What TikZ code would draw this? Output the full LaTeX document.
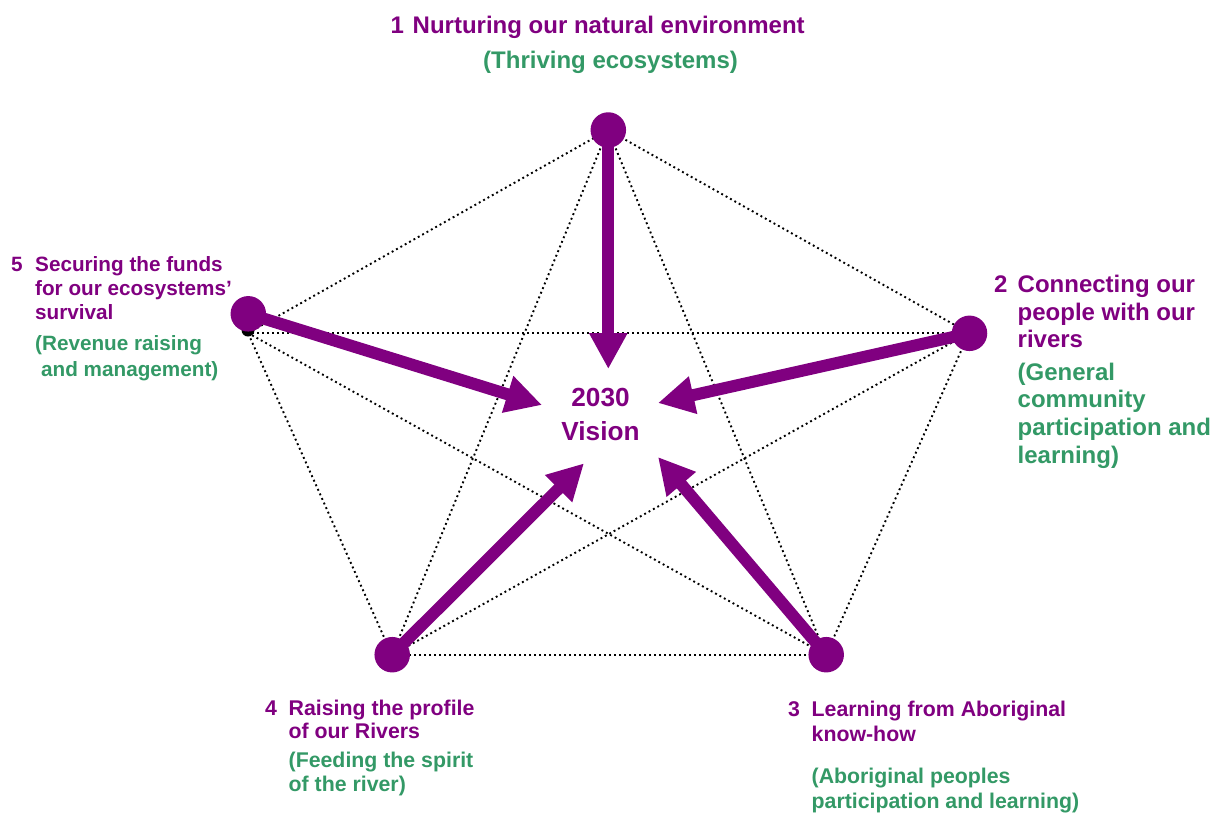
\documentclass[tikz,border=0pt]{standalone}
\usepackage{fontspec}
\setmainfont{Liberation Sans}
\usetikzlibrary{arrows.meta}
\definecolor{vpurple}{HTML}{800080}
\definecolor{vgreen}{HTML}{339966}
\tikzset{
  dotline/.style={black, line width=1.9pt, dash pattern=on 1.9pt off 3.1pt},
  bigarrow/.style={vpurple, line width=12pt, -{Triangle[length=36pt,width=36pt]}},
  pnode/.style={circle, fill=vpurple, inner sep=0pt, minimum size=35.5pt},
  bdot/.style={circle, fill=black, inner sep=0pt, minimum size=13pt},
  lab/.style={anchor=base west, inner sep=0pt, font=\bfseries},
  pA/.style={lab, vpurple, font=\bfseries\fontsize{24}{28}\selectfont},
  gA/.style={lab, vgreen, font=\bfseries\fontsize{24}{28}\selectfont},
  pB/.style={lab, vpurple, font=\bfseries\fontsize{21.3}{25}\selectfont},
  gB/.style={lab, vgreen, font=\bfseries\fontsize{21.3}{25}\selectfont},
  pC/.style={lab, vpurple, font=\bfseries\fontsize{20.7}{24}\selectfont},
  gC/.style={lab, vgreen, font=\bfseries\fontsize{20.7}{24}\selectfont},
}
\begin{document}
\begin{tikzpicture}[x=1pt,y=-1pt]
\useasboundingbox (0,0) rectangle (1214,812);
% vertices
\node[bdot] (v5) at (248,330) {};
\coordinate (d5) at (248,333);
\coordinate (d1) at (608,130);
\coordinate (d2) at (969,333);
\coordinate (d3) at (826,655);
\coordinate (d4) at (392,655);
% dotted pentagon and star
\draw[dotline] (d1) -- (d2);
\draw[dotline] (d2) -- (d3);
\draw[dotline] (d3) -- (d4);
\draw[dotline] (d4) -- (d5);
\draw[dotline] (d5) -- (d1);
\draw[dotline] (d1) -- (d3);
\draw[dotline] (d1) -- (d4);
\draw[dotline] (d2) -- (d4);
\draw[dotline] (d2) -- (d5);
\draw[dotline] (d3) -- (d5);
% purple circles
\node[pnode] (n1) at (608.3,130) {};
\node[pnode] (n2) at (969.5,333.3) {};
\node[pnode] (n3) at (826.2,654.7) {};
\node[pnode] (n4) at (392.2,654.7) {};
\node[pnode] (n5) at (248.3,313.8) {};
% centre
\node[anchor=base, inner sep=0pt, vpurple, font=\bfseries\fontsize{26.2}{30}\selectfont] (vis1) at (600.5,406.7) {2030};
\node[anchor=base, inner sep=0pt, vpurple, font=\bfseries\fontsize{26.2}{30}\selectfont] (vis2) at (600.5,440) {Vision};
% arrow tips
\coordinate (t1) at (608.3,369);
\coordinate (t2) at (658,403);
\coordinate (t3) at (658,457);
\coordinate (t4) at (584,463.3);
\coordinate (t5) at (542,405);
\draw[bigarrow] (n1.center) -- (t1);
\draw[bigarrow] (n2.center) -- (t2);
\draw[bigarrow] (n3.center) -- (t3);
\draw[bigarrow] (n4.center) -- (t4);
\draw[bigarrow] (n5.center) -- (t5);
% label 1
\node[pA] (l1n) at (390.5,33.3) {1};
\node[pA] (l1a) at (412.5,33.3) {Nurturing our natural environment};
\node[gA] (l1b) at (483,68.3) {(Thriving ecosystems)};
% label 2
\node[pA] (l2n) at (994,292.3) {2};
\node[pA] (l2a) at (1017.5,292.3) {Connecting our};
\node[pA] (l2b) at (1017.5,320) {people with our};
\node[pA] (l2c) at (1017.5,347.7) {rivers};
\node[gA] (l2d) at (1017.5,380) {(General};
\node[gA] (l2e) at (1017.5,407.7) {community};
\node[gA] (l2f) at (1017.5,435.7) {participation and};
\node[gA] (l2g) at (1017.5,463) {learning)};
% label 3
\node[pB] (l3n) at (788,716.7) {3};
\node[pB] (l3a) at (811.5,716.7) {Learning from Aboriginal};
\node[pB] (l3b) at (811.5,741.7) {know-how};
\node[gB] (l3c) at (811.5,783.3) {(Aboriginal peoples};
\node[gB] (l3d) at (811.5,808.3) {participation and learning)};
% label 4
\node[pB] (l4n) at (265,715) {4};
\node[pB] (l4a) at (288.5,715) {Raising the profile};
\node[pB] (l4b) at (288.5,738.3) {of our Rivers};
\node[gB] (l4c) at (288.5,767.3) {(Feeding the spirit};
\node[gB] (l4d) at (288.5,791.7) {of the river)};
% label 5
\node[pC] (l5n) at (11,271.7) {5};
\node[pC] (l5a) at (35,271.7) {Securing the funds};
\node[pC] (l5b) at (35,295.5) {for our ecosystems’};
\node[pC] (l5c) at (35,319) {survival};
\node[gC] (l5d) at (35,350) {(Revenue raising};
\node[gC] (l5e) at (41,376.7) {and management)};
\end{tikzpicture}
\end{document}
